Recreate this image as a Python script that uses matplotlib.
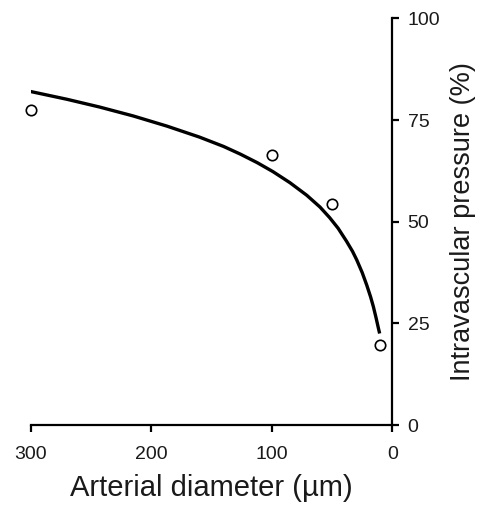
import matplotlib
matplotlib.use("Agg")
import matplotlib.pyplot as plt

plt.rcParams['font.family'] = ['Liberation Sans', 'DejaVu Sans']

# measured data points
diam_pts = [300, 100, 50, 10]
press_pts = [77.5, 66.3, 54.3, 19.6]

# fitted curve
curve_x = [300, 270, 243, 215, 187, 160, 140, 126, 112, 99, 85, 71, 60, 52, 45,
           38, 33, 29.5, 25, 21.2, 18, 15.7, 13.5, 11.6, 10.5]
curve_y = [82.0, 80.1, 78.2, 76.0, 73.5, 70.8, 68.5, 66.6, 64.5, 62.3, 59.6, 56.5, 53.6, 51.0, 48.4,
           45.2, 42.7, 40.6, 37.5, 34.4, 31.5, 29.1, 26.4, 23.9, 22.5]

x_ticks = [300, 200, 100, 0]
y_ticks = [0, 25, 50, 75, 100]

fig = plt.figure(figsize=(4.78, 5.05), dpi=100)
ax = fig.add_axes([0.0642, 0.1584, 0.7565, 0.8053])

ax.plot(curve_x, curve_y, color='black', lw=2.4, solid_capstyle='butt',
        solid_joinstyle='round', zorder=2)
ax.plot(diam_pts, press_pts, linestyle='none', marker='o', markersize=7.5,
        markerfacecolor='white', markeredgecolor='black', markeredgewidth=1.2,
        zorder=3, clip_on=False)

ax.set_xlim(300, 0)
ax.set_ylim(0, 100)
ax.set_xticks(x_ticks)
ax.set_yticks(y_ticks)

for s in ['top', 'left']:
    ax.spines[s].set_visible(False)
for s in ['bottom', 'right']:
    ax.spines[s].set_linewidth(1.6)
ax.yaxis.tick_right()
ax.yaxis.set_label_position('right')
ax.tick_params(axis='both', direction='out', length=5, width=1.6, labelsize=14,
               colors='black', labelcolor='#1a1a1a')
ax.tick_params(axis='x', pad=10)
ax.tick_params(axis='y', pad=6)

ax.set_xlabel('Arterial diameter (µm)', fontsize=21, labelpad=8, color='#1a1a1a')
ax.set_ylabel('Intravascular pressure (%)', fontsize=19.5, labelpad=7, color='#1a1a1a')

fig.savefig('out.png', dpi=100)
